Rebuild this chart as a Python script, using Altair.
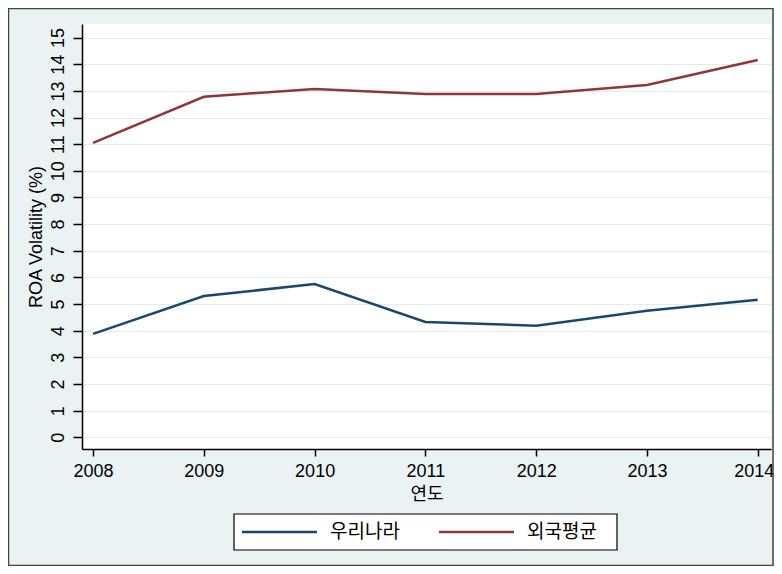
import altair as alt
import pandas as pd

years = [2008, 2009, 2010, 2011, 2012, 2013, 2014]
korea = [3.88, 5.30, 5.75, 4.33, 4.19, 4.75, 5.16]
foreign = [11.05, 12.78, 13.07, 12.88, 12.88, 13.22, 14.16]
series_names = ["우리나라", "외국평균"]
series_colors = ["#1A476F", "#90353B"]
y_ticks = list(range(0, 16))

rows = []
for yr, k, f in zip(years, korea, foreign):
    rows.append({"year": yr, "series": series_names[0], "value": k})
    rows.append({"year": yr, "series": series_names[1], "value": f})
df = pd.DataFrame(rows)

FONT = "Liberation Sans, Arial, Noto Sans CJK KR"
KFONT = "Noto Sans CJK KR"
BG = "#EAF2F3"

lines = alt.Chart(df).mark_line(strokeWidth=2.5).encode(
    x=alt.X(
        "year:Q",
        scale=alt.Scale(domain=[2007.9, 2014.12], nice=False, zero=False),
        axis=alt.Axis(
            values=years, format="d", title="연도", grid=False,
            tickSize=7, labelPadding=6, labelFont=FONT, labelFontSize=18,
            labelFlush=False, labelBound=False,
            labelOffset={"condition": {"test": "datum.value == 2014", "value": -4}, "value": 0},
            titleFont=KFONT, titleFontSize=18, titleFontWeight="normal",
            titlePadding=5,
        ),
    ),
    y=alt.Y(
        "value:Q",
        scale=alt.Scale(domain=[-0.44, 15.51], nice=False, zero=False),
        axis=alt.Axis(
            values=y_ticks, title="ROA Volatility (%)", grid=True,
            gridColor="#E4EDEE", gridWidth=1.2,
            tickSize=9, labelPadding=6, labelAngle=270,
            labelAlign="center", labelBaseline="bottom",
            labelFont=FONT, labelFontSize=18,
            titleFont=FONT, titleFontSize=18, titleFontWeight="normal",
            titlePadding=4,
        ),
    ),
    color=alt.Color(
        "series:N",
        scale=alt.Scale(domain=series_names, range=series_colors),
        legend=None,
    ),
)

one = pd.DataFrame({"a": [0]})

border = alt.Chart(one).mark_rect(
    fillOpacity=0, stroke="#444444", strokeWidth=1.5
).encode(
    x=alt.value(-73.5), x2=alt.value(691), y=alt.value(-15.5), y2=alt.value(541.5)
)

legend_box = alt.Chart(one).mark_rect(
    fill="white", stroke="#000", strokeWidth=1.2
).encode(
    x=alt.value(152), x2=alt.value(535), y=alt.value(490), y2=alt.value(526)
)

legend_layers = [legend_box]
sym_x = [160, 357]
for i, (name, col) in enumerate(zip(series_names, series_colors)):
    d = pd.DataFrame({"series": [name]})
    legend_layers.append(
        alt.Chart(d).mark_rule(color=col, strokeWidth=2.5).encode(
            x=alt.value(sym_x[i]), x2=alt.value(sym_x[i] + 75), y=alt.value(508)
        )
    )
    legend_layers.append(
        alt.Chart(d).mark_text(
            align="left", baseline="middle", font=KFONT, fontSize=19, color="#000"
        ).encode(
            text="series:N", x=alt.value(sym_x[i] + 88), y=alt.value(508)
        )
    )

chart = alt.layer(border, lines, *legend_layers).properties(
    width=689, height=425,
    autosize=alt.AutoSizeParams(type="none"),
    padding={"left": 74, "top": 16, "right": 3, "bottom": 117},
    background=BG,
).configure_view(
    fill="white", stroke=None
).configure_axis(
    domainColor="#000", domainWidth=1.5, tickColor="#000", tickWidth=1.5,
    labelColor="#000", titleColor="#000",
)

chart.save("out.html", embed_options={"renderer": "svg", "actions": False})
